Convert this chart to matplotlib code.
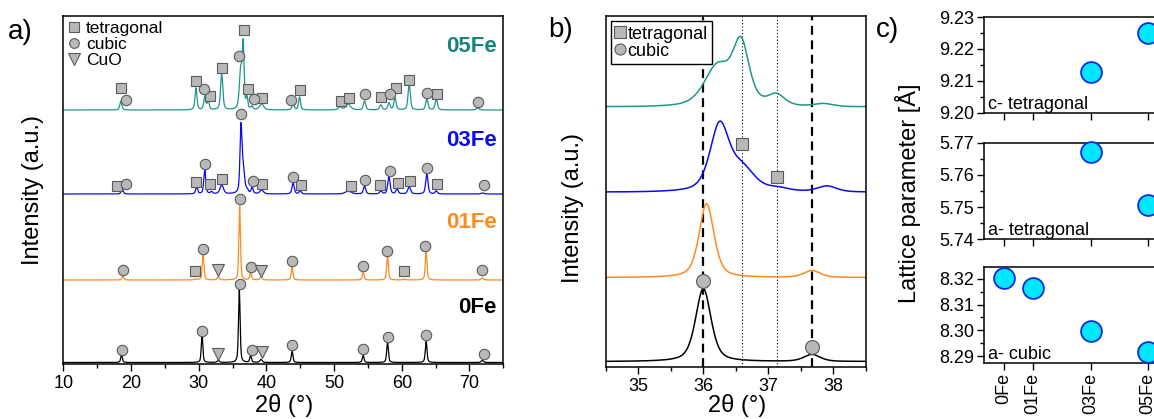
#%%imports
import matplotlib
matplotlib.use("Agg")
import matplotlib.pyplot as plt
from matplotlib.lines import Line2D
from matplotlib.ticker import MultipleLocator, FormatStrFormatter
import numpy as np

plt.rcParams["font.family"] = ["Liberation Sans", "DejaVu Sans"]

#%%data
samples = ["05Fe", "03Fe", "01Fe", "0Fe"]

#peak tables: position (2theta), height (a.u.), fwhm (deg)
fe0_pos = [18.6, 30.5, 32.9, 36.0, 37.67, 39.2, 43.8, 54.3, 57.9, 63.6, 71.9]
fe0_hgt = [8, 27, 2, 73, 7, 3, 11, 7, 20, 21, 2]
fe0_fwhm = [0.28, 0.28, 0.4, 0.28, 0.3, 0.4, 0.3, 0.3, 0.3, 0.3, 0.4]

fe01_pos = [18.8, 29.5, 30.65, 32.9, 36.05, 37.67, 39.2, 43.8, 54.3, 57.9, 60.4, 63.6, 71.9]
fe01_hgt = [4, 1, 25, 3, 74, 7, 3, 13, 8, 24, 1, 28, 2]
fe01_fwhm = [0.3, 0.4, 0.3, 0.4, 0.27, 0.3, 0.4, 0.3, 0.3, 0.3, 0.4, 0.3, 0.4]

fe03_pos = [18.7, 29.7, 30.9, 31.9, 33.4, 36.25, 36.6, 37.15, 37.9, 39.3, 43.95, 45.0, 52.1,
            54.5, 56.9, 58.1, 59.3, 61.1, 63.7, 65.1, 71.9]
fe03_hgt = [5, 7, 24, 2, 9, 66, 22, 3, 6, 4, 11, 3, 3, 8, 3, 18, 5, 7, 20, 3, 1]
fe03_fwhm = [0.35, 0.35, 0.35, 0.4, 0.6, 0.35, 0.45, 0.4, 0.35, 0.6, 0.4, 0.4, 1.0,
             0.4, 0.4, 0.4, 0.4, 0.5, 0.4, 0.4, 0.5]

fe05_pos = [18.5, 29.6, 30.9, 31.4, 33.4, 36.22, 36.58, 37.12, 37.85, 39.3, 43.95, 44.9, 50.9,
            52.1, 54.5, 56.9, 58.1, 59.0, 61.1, 63.7, 65.1, 71.2]
fe05_hgt = [9, 22, 13, 9, 36, 40, 60, 11, 3, 6, 6, 13, 3, 6, 9, 5, 7, 12, 26, 11, 11, 2]
fe05_fwhm = [0.35, 0.35, 0.35, 0.35, 0.4, 0.48, 0.3, 0.3, 0.35, 0.7, 0.4, 0.35, 0.6,
             0.8, 0.4, 0.4, 0.4, 0.4, 0.4, 0.4, 0.4, 0.5]

#vertical offsets of the stacked patterns
offs_a = {"05Fe": 254, "03Fe": 170, "01Fe": 84, "0Fe": 1.5}
offs_b = {"05Fe": 259, "03Fe": 174, "01Fe": 89, "0Fe": 5}

#phase markers in panel a: position, height above baseline
mk_a = {
    "05Fe": {
        "s": ([18.47, 29.6, 31.7, 33.4, 36.65, 37.3, 39.4, 45.0, 50.95, 52.2, 56.9, 59.2, 61.1, 65.2],
              [22, 29, 14, 42, 80, 21, 12, 20, 9, 12, 13, 22, 30, 16]),
        "o": ([19.2, 30.8, 36.0, 38.1, 43.7, 54.5, 58.2, 63.7, 71.2],
              [10, 21, 54, 11, 10, 16, 16, 17, 8]),
    },
    "03Fe": {
        "s": ([18.0, 29.6, 31.7, 33.5, 39.4, 45.1, 52.5, 56.8, 59.4, 61.2, 65.2],
              [8, 12, 10, 15, 10, 9, 8, 9, 11, 13, 10]),
        "o": ([19.3, 30.9, 36.2, 38.0, 43.9, 54.5, 58.2, 63.7, 72.1],
              [10, 30, 80, 13, 17, 14, 23, 26, 9]),
    },
    "01Fe": {
        "s": ([29.5, 60.4], [9, 9]),
        "o": ([18.85, 30.7, 36.1, 37.7, 43.8, 54.3, 57.8, 63.5, 71.9],
              [10, 31, 81, 13, 19, 14, 29, 34, 10]),
        "v": ([32.9, 39.2], [10, 9]),
    },
    "0Fe": {
        "o": ([18.66, 30.5, 36.1, 37.85, 43.8, 54.3, 57.95, 63.6, 72.2],
              [13, 32, 79, 13, 18, 14, 26, 28, 9]),
        "v": ([32.9, 39.3], [9, 11]),
    },
}

#panel b reference lines and markers
cub_lines = [36.0, 37.67]
tet_lines = [36.6, 37.13]
mk_b_sq = ([36.6, 37.13], [223, 190])
mk_b_ci = ([36.0, 37.67], [86, 20])

#panel c lattice parameters
c_labels = ["0Fe", "01Fe", "03Fe", "05Fe"]
c_x = [0, 1, 3, 5]
c_tet = [np.nan, np.nan, 9.2129, 9.2250]
a_tet = [np.nan, np.nan, 5.7672, 5.7507]
a_cub = [8.3202, 8.3164, 8.2996, 8.2915]

colors = {"05Fe": "#1F968B", "03Fe": "#0A0AF5", "01Fe": "#FF8A1C", "0Fe": "#000000"}
label_colors = {"05Fe": "#17847A", "03Fe": "#0A0AF0", "01Fe": "#FF8A1C", "0Fe": "#000000"}
peaks = {"05Fe": (fe05_pos, fe05_hgt, fe05_fwhm), "03Fe": (fe03_pos, fe03_hgt, fe03_fwhm),
         "01Fe": (fe01_pos, fe01_hgt, fe01_fwhm), "0Fe": (fe0_pos, fe0_hgt, fe0_fwhm)}


#%%definitions
def pattern(x, pos, hgt, fwhm, eta=0.5):
    """pseudo-voigt sum for a peak table"""
    y = np.zeros_like(x)
    for p, h, w in zip(pos, hgt, fwhm):
        d = (x - p) / (w / 2)
        y += h * (eta / (1 + d**2) + (1 - eta) * np.exp(-np.log(2) * d**2))
    return y


W, H = 1154, 419
def px_axes(fig, l, t, r, b):
    return fig.add_axes([l / W, 1 - b / H, (r - l) / W, (b - t) / H])


mstyle = dict(ls="none", mfc="#B8B8B8", mec="#5A5A5A", mew=0.8, clip_on=False)
msize = {"s": 7, "o": 7.5, "v": 8.5}


#%%main
def main():
    fig = plt.figure(figsize=(W / 100, H / 100), dpi=100)

    #---- panel a
    ax = px_axes(fig, 63.3, 16, 503.3, 364)
    xa = np.linspace(10, 75, 6500)
    for s in samples:
        ax.plot(xa, offs_a[s] + pattern(xa, *peaks[s]), color=colors[s], lw=0.9)
        for m, (mx, mh) in mk_a[s].items():
            ax.plot(mx, offs_a[s] + np.array(mh), marker=m, ms=msize[m], **mstyle)
    ax.set_xlim(10, 75)
    ax.set_ylim(0, 348)
    ax.set_yticks([])
    ax.xaxis.set_major_locator(MultipleLocator(10))
    ax.xaxis.set_minor_locator(MultipleLocator(5))
    ax.tick_params(axis="x", direction="out", length=5, width=1, labelsize=13, pad=3)
    ax.tick_params(axis="x", which="minor", direction="out", length=3, width=1)
    for sp in ax.spines.values():
        sp.set_linewidth(1.1)
    handles = [Line2D([], [], marker=m, ms=msize[m] - 0.5, **mstyle) for m in ["s", "o", "v"]]
    ax.legend(handles, ["tetragonal", "cubic", "CuO"], loc="upper left", frameon=False,
              fontsize=12.5, handlelength=0.6, handletextpad=0.4, labelspacing=0.05,
              borderaxespad=0.1, borderpad=0.2)
    for s, yp in zip(samples, [46, 140, 222, 307]):
        fig.text(497 / W, 1 - yp / H, s, color=label_colors[s], fontsize=16, fontweight="bold",
                 ha="right", va="center")
    fig.text(33 / W, 1 - 190 / H, "Intensity (a.u.)", rotation=90, fontsize=17, ha="center", va="center")
    fig.text(284 / W, 1 - 405 / H, "2\u03b8 (\u00b0)", fontsize=17, ha="center", va="center")
    fig.text(8 / W, 1 - 32 / H, "a)", fontsize=20, ha="left", va="center")

    #---- panel b
    bx = px_axes(fig, 605.7, 15.7, 866, 366.7)
    xb = np.linspace(34.5, 38.5, 2000)
    for xl in cub_lines:
        bx.axvline(xl, color="black", ls=(0, (4, 2.5)), lw=1.6, zorder=1)
    for xl in tet_lines:
        bx.axvline(xl, color="black", ls=(0, (1, 2)), lw=0.8, zorder=1)
    for s in samples:
        bx.plot(xb, offs_b[s] + pattern(xb, *peaks[s]), color=colors[s], lw=1.1, zorder=2)
    bx.plot(*mk_b_sq, marker="s", ms=9, zorder=3, **mstyle)
    bx.plot(*mk_b_ci, marker="o", ms=10, zorder=3, **mstyle)
    bx.set_xlim(34.5, 38.5)
    bx.set_ylim(0, 351)
    bx.set_yticks([])
    bx.xaxis.set_major_locator(MultipleLocator(1))
    bx.xaxis.set_minor_locator(MultipleLocator(0.5))
    bx.tick_params(axis="x", direction="out", length=5, width=1, labelsize=13, pad=3)
    bx.tick_params(axis="x", which="minor", direction="out", length=3, width=1)
    for sp in bx.spines.values():
        sp.set_linewidth(1.1)
    hb = [Line2D([], [], marker=m, ms=8, **mstyle) for m in ["s", "o"]]
    lg = bx.legend(hb, ["tetragonal", "cubic"], loc="upper left", fontsize=13, handlelength=0.5,
                   handletextpad=0.15, labelspacing=0.0, borderaxespad=0.3, borderpad=0.25,
                   fancybox=False, framealpha=1)
    lg.get_frame().set_edgecolor("black")
    lg.get_frame().set_linewidth(1.0)
    fig.text(573 / W, 1 - 208 / H, "Intensity (a.u.)", rotation=90, fontsize=17, ha="center", va="center")
    fig.text(737 / W, 1 - 405 / H, "2\u03b8 (\u00b0)", fontsize=17, ha="center", va="center")
    fig.text(548 / W, 1 - 30 / H, "b)", fontsize=20, ha="left", va="center")

    #---- panel c
    rows = [(17, 113, c_tet, (9.20, 9.23), "c- tetragonal"),
            (143, 239, a_tet, (5.74, 5.77), "a- tetragonal"),
            (267, 363, a_cub, (8.2874, 8.3245), "a- cubic")]
    for i, (t, b, vals, yl, txt) in enumerate(rows):
        cx = px_axes(fig, 984, t, 984 + 6.4 * 28.8, b)
        cx.plot(c_x, vals, ls="none", marker="o", ms=15, mfc="#00E8FF", mec="#1028E8", mew=1.3,
                clip_on=False, zorder=3)
        cx.set_xlim(-0.7, 5.7)
        cx.set_ylim(*yl)
        cx.set_xticks(c_x)
        cx.yaxis.set_major_locator(MultipleLocator(0.01))
        cx.yaxis.set_minor_locator(MultipleLocator(0.005))
        cx.tick_params(direction="out", length=5, width=1, labelsize=13, pad=2)
        cx.tick_params(which="minor", direction="out", length=3, width=1)
        cx.yaxis.set_major_formatter(FormatStrFormatter("%.2f"))
        if i < 2:
            cx.set_xticklabels([])
        else:
            cx.set_xticklabels(c_labels, rotation=90, fontsize=13)
        for sp in cx.spines.values():
            sp.set_linewidth(1.1)
        cx.text(0.02, 0.0, txt, transform=cx.transAxes, fontsize=13, ha="left", va="bottom")
    fig.text(908 / W, 1 - 193 / H, "Lattice parameter [\u00c5]", rotation=90, fontsize=17,
             ha="center", va="center")
    fig.text(876 / W, 1 - 30 / H, "c)", fontsize=20, ha="left", va="center")

    fig.savefig("out.png", dpi=100)


if __name__ == "__main__":
    main()
